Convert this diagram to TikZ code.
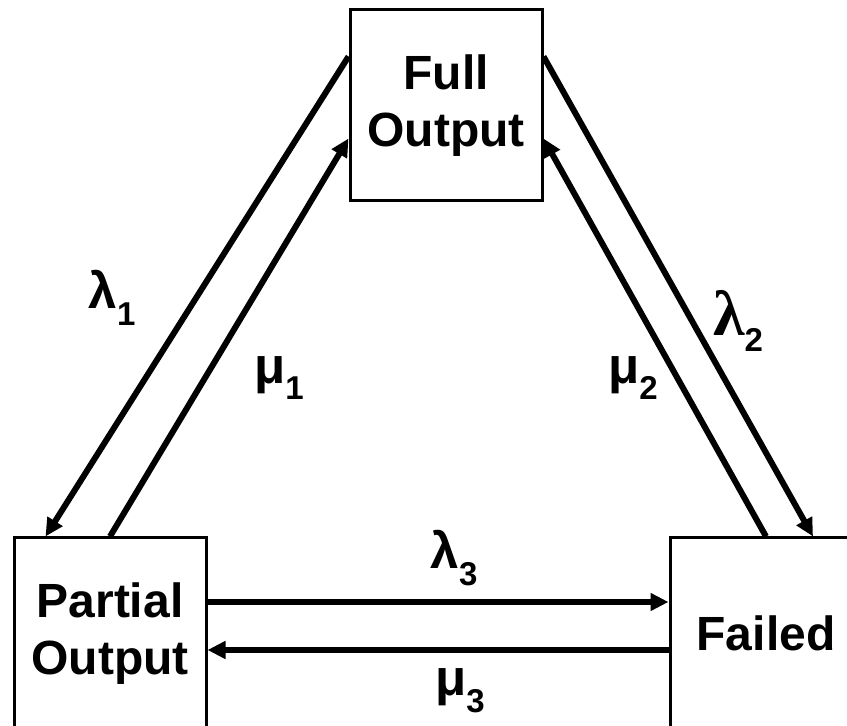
\documentclass[tikz,border=0pt]{standalone}
\usepackage{fontspec}
\setmainfont{Liberation Sans}
\newfontfamily\greekserif{Liberation Serif}
\usetikzlibrary{arrows.meta, positioning, calc}
\newcommand{\rate}[2]{#1\raisebox{-0.33em}{\fontsize{33}{33}\selectfont #2}}

\begin{document}
\begin{tikzpicture}[
  x=1pt, y=1pt,
  font=\bfseries\fontsize{48}{57}\selectfont,
  >={Triangle[length=18pt, width=17pt]},
  state/.style={draw, line width=3pt, minimum width=192pt,
                minimum height=191pt, align=center, inner sep=0pt},
  trans/.style={->, line width=6pt},
  lbl/.style={font=\bfseries\fontsize{51}{51}\selectfont, inner sep=0pt},
]
\useasboundingbox (0,0) rectangle (847,726);
\clip (0,0) rectangle (847,726);

% ======================= states =========================================
\node[state] (full) at (446,620.5) {Full\\Output};
\node[state] (partial) at (110,92.5) {Partial\\Output};
\node[state] (failed) at (766,92.5) {Failed};

% ======================= transitions ====================================
\draw[trans] ([yshift=-48pt]full.north west) -- ([xshift=33pt]partial.north west);
\draw[trans] (partial.north) -- ([yshift=-130pt]full.north west);
\draw[trans] ([yshift=-48pt]full.north east) -- ([xshift=47pt]failed.north);
\draw[trans] (failed.north) -- ([yshift=-130pt]full.north east);
\draw[trans] ([yshift=31.5pt]partial.east) -- ([yshift=31.5pt]failed.west);
\draw[trans] ([yshift=-16.5pt]failed.west) -- ([yshift=-16.5pt]partial.east);

% ======================= rates ==========================================
\node[lbl] (l1) at (112,428) {\rate{λ}{1}};
\node[lbl] (m1) at (279,348) {\rate{μ}{1}};
\node[lbl] (l2) at (738,405) {\rate{{\greekserif\fontsize{64}{64}\selectfont λ}}{2}};
\node[lbl] (m2) at (633,348) {\rate{μ}{2}};
\node[lbl] (l3) at (454,168) {\rate{λ}{3}};
\node[lbl] (m3) at (460,35) {\rate{μ}{3}};
\end{tikzpicture}
\end{document}
